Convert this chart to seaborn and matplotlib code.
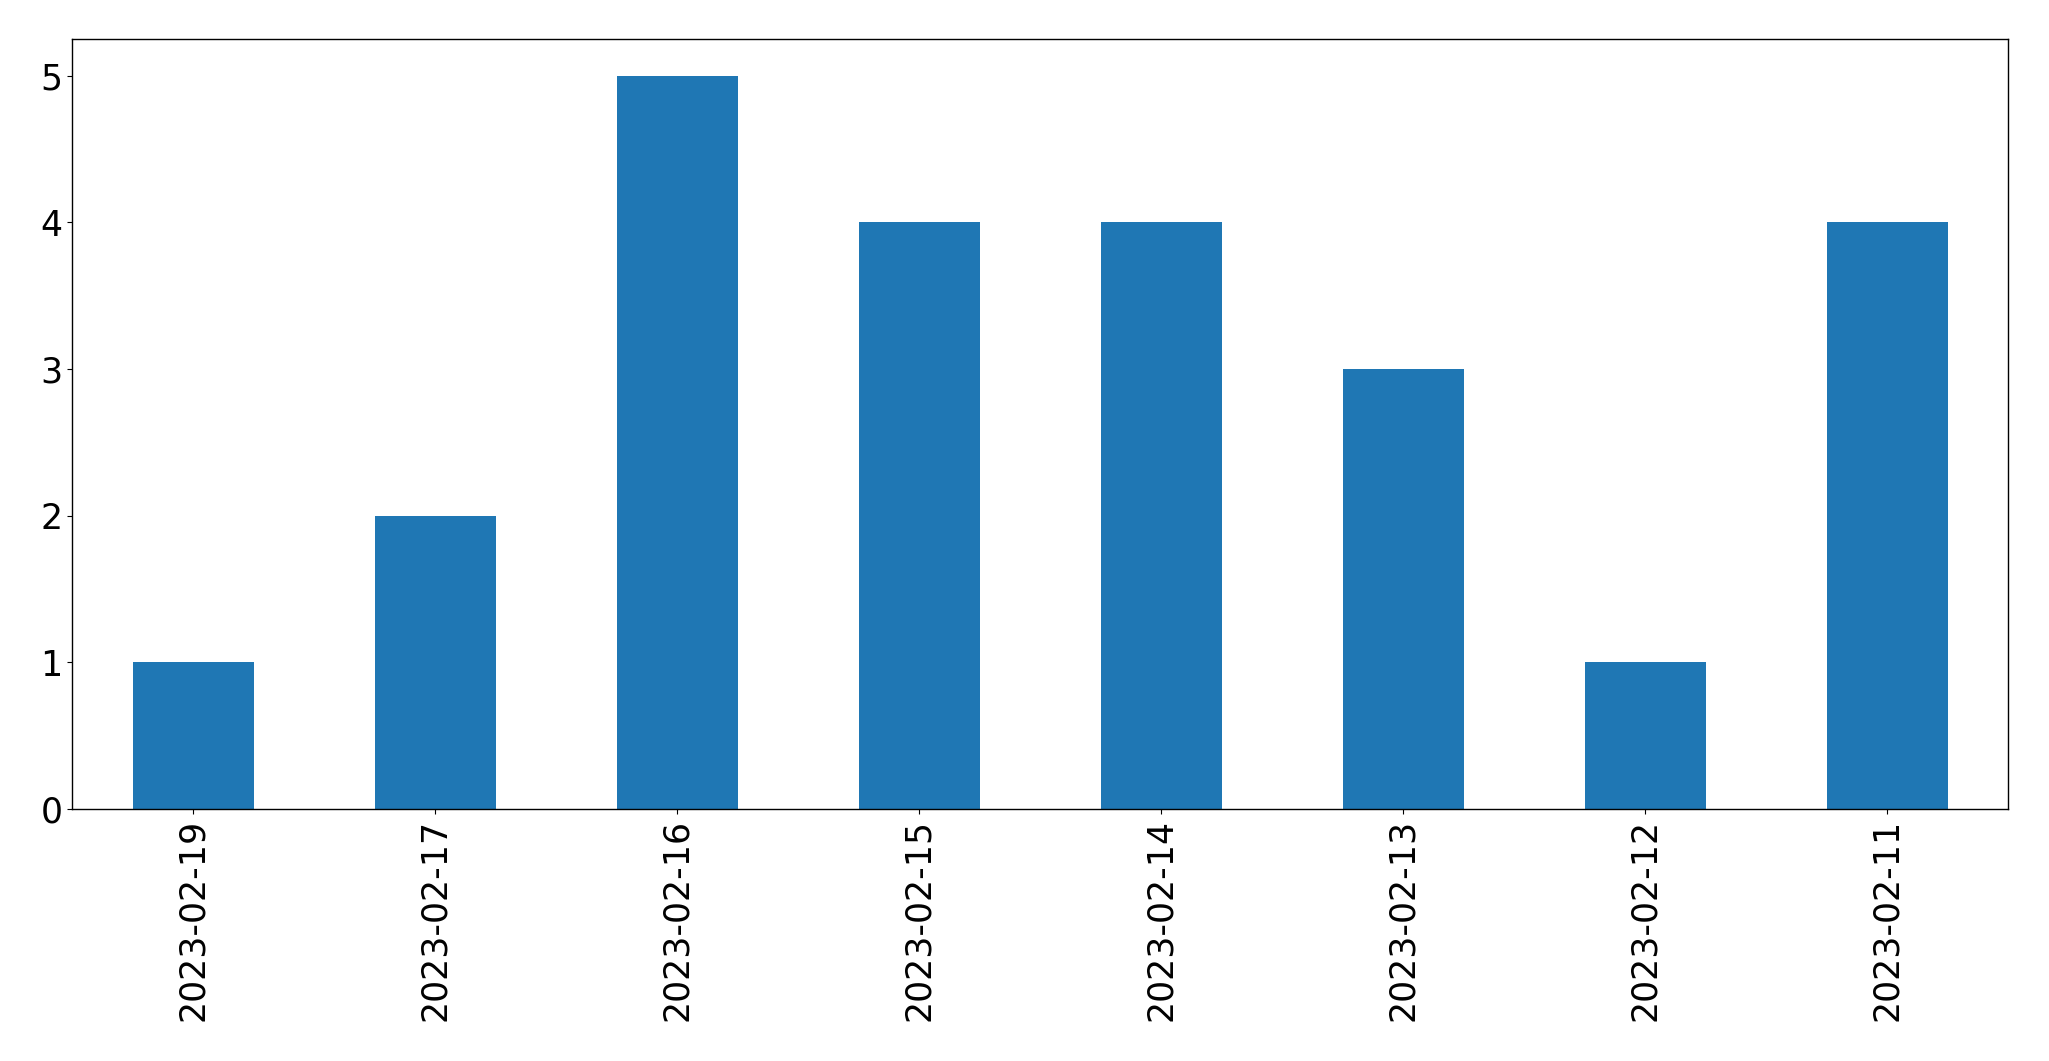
import matplotlib
matplotlib.use("Agg")
import matplotlib.pyplot as plt
import seaborn as sns
import pandas as pd

dates = ["2023-02-19", "2023-02-17", "2023-02-16", "2023-02-15",
         "2023-02-14", "2023-02-13", "2023-02-12", "2023-02-11"]
counts = [1, 2, 5, 4, 4, 3, 1, 4]

sns.set_style("white")
plt.rcParams['font.family'] = ['DejaVu Sans']
plt.rcParams['text.color'] = 'black'
plt.rcParams['xtick.color'] = 'black'
plt.rcParams['ytick.color'] = 'black'

df = pd.DataFrame({"date": dates, "count": counts})

fig = plt.figure(figsize=(20.49, 10.61), dpi=100)
ax = fig.add_axes([72/2049, 1 - 809/1061, (2008-72)/2049, (809-39)/1061])
sns.barplot(data=df, x="date", y="count", order=dates, color="#1f77b4",
            saturation=1, width=0.5, linewidth=0, edgecolor="none", ax=ax)
ax.set_xlim(-0.5, 7.5)
ax.set_ylim(0, 5.25)
ax.set_xlabel("")
ax.set_ylabel("")
ax.tick_params(axis='x', labelrotation=90, labelsize=25, length=3.5, width=0.8,
               bottom=True, colors='black')
ax.tick_params(axis='y', labelsize=25, length=3.5, width=0.8, left=True,
               colors='black')
for s in ax.spines.values():
    s.set_visible(True)
    s.set_color("black")
    s.set_linewidth(1)
fig.savefig("out.png", dpi=100)
